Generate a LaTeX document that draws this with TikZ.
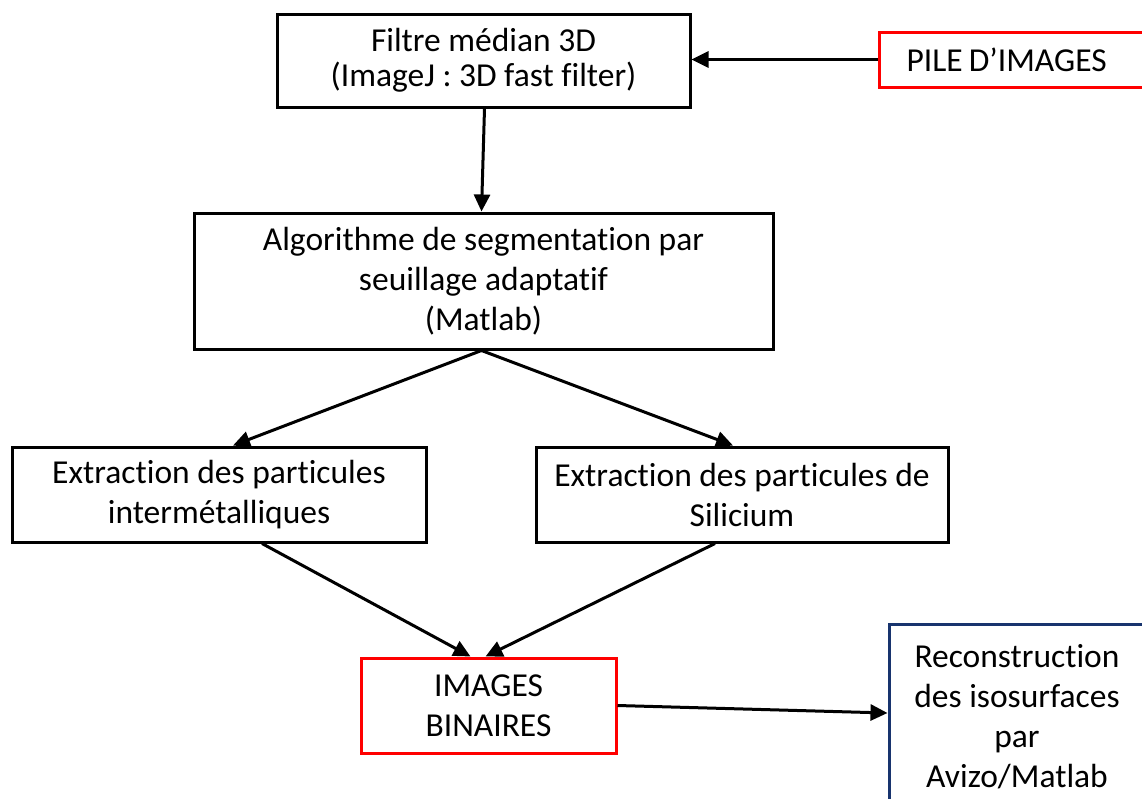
\documentclass[tikz,border=0pt]{standalone}
\usepackage{fontspec}
\setmainfont[Ligatures={NoCommon}]{Carlito}
\usetikzlibrary{arrows.meta}
\definecolor{navy}{RGB}{24,52,110}
\begin{document}
\begin{tikzpicture}[x=1pt,y=-1pt,
  box/.style={draw=black,line width=3pt,inner sep=0pt,align=center,
    font=\fontsize{33.5}{40}\selectfont},
  redbox/.style={box,draw=red},
  bluebox/.style={box,draw=navy},
  arr/.style={line width=3pt,-{Triangle[length=17pt,width=16pt]}}]
\useasboundingbox (0,0) rectangle (1142,798);
\clip (0,0) rectangle (1142,798);
\fill[white] (0,0) rectangle (1142,798);

\node[box,minimum width=413pt,minimum height=93pt,font=\fontsize{33.5}{35}\selectfont]
  (top) at (483.5,60.5) {Filtre médian 3D\\(ImageJ : 3D fast filter)};
\node[redbox,anchor=west,text width=263pt,align=left,inner xsep=27pt,minimum height=55pt]
  (pile) at (878,59.5) {PILE\hspace{-5pt} D’IMAGES};
\node[box,minimum width=579pt,minimum height=136pt]
  (mid) at (483.5,281) {Algorithme de segmentation par\\seuillage adaptatif\\(Matlab)};
\node[box,minimum width=414pt,minimum height=95pt]
  (left) at (219,494.5) {Extraction des particules\\intermétalliques};
\node[box,minimum width=412pt,minimum height=95pt]
  (right) at (742,494.5) {Extraction des particules de\\Silicium};
\node[redbox,minimum width=255pt,minimum height=95pt]
  (bin) at (488.5,705.5) {IMAGES\\BINAIRES};
\node[bluebox,minimum width=256pt,minimum height=186pt]
  (rec) at (1017,717) {Reconstruction\\des isosurfaces\\par\\Avizo/Matlab};

\draw[arr] (pile.west) -- (top.east |- pile.west);
\draw[arr] ([xshift=1pt]top.south) -- ([xshift=-2pt]mid.north);
\draw[arr] ([xshift=-2pt]mid.south) -- ([xshift=14pt]left.north);
\draw[arr] ([xshift=-2pt]mid.south) -- ([xshift=-9pt]right.north);
\draw[arr] ([xshift=43pt]left.south) -- ([xshift=-18pt]bin.north);
\draw[arr] ([xshift=-27pt]right.south) -- ([xshift=-3pt]bin.north);
\draw[arr] (bin.east) -- (rec.west |- 0,713);
\end{tikzpicture}
\end{document}
